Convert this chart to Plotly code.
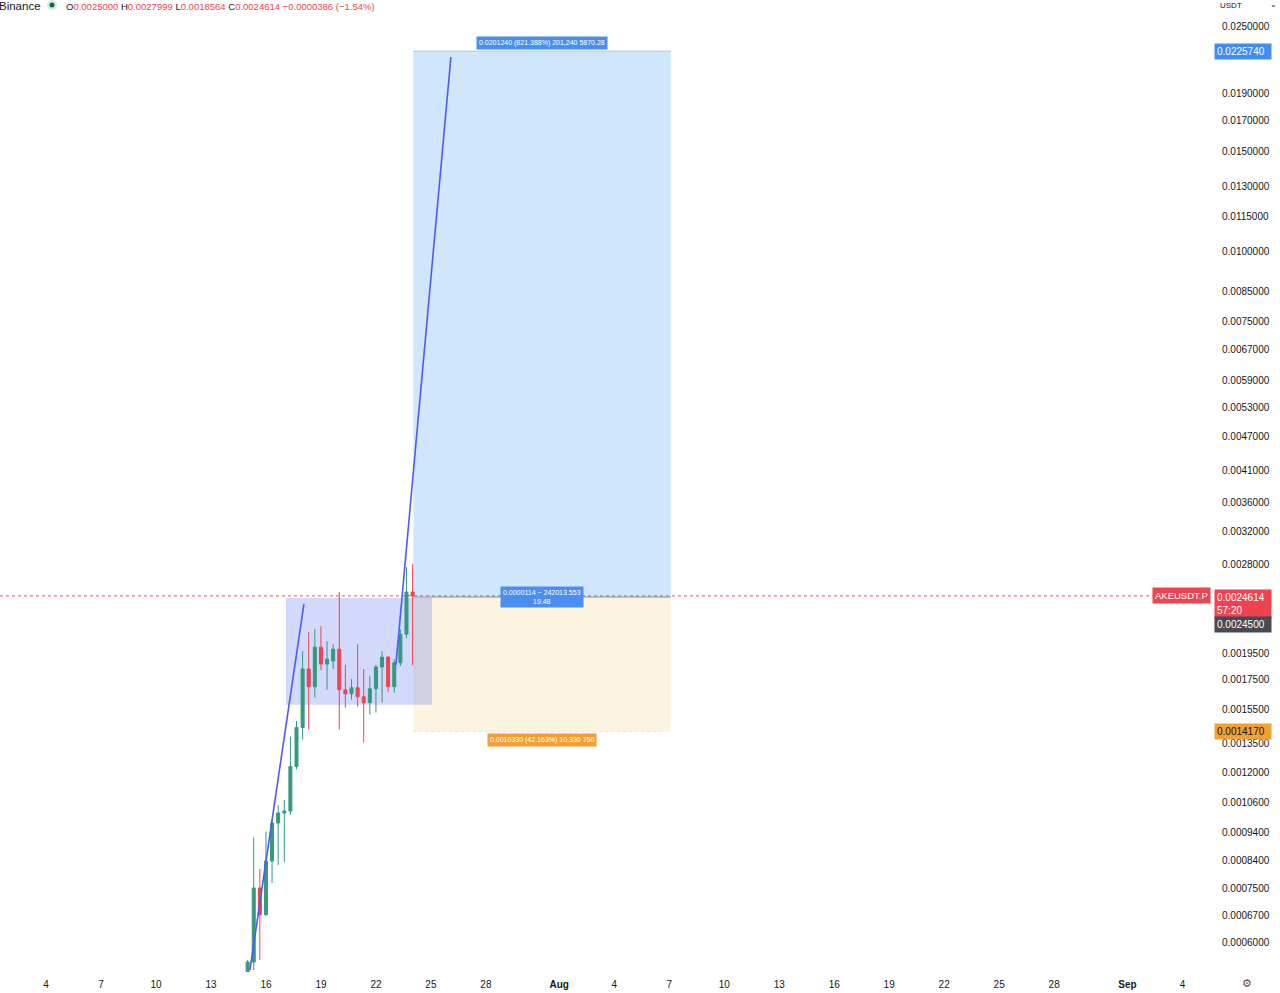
import math
import pandas as pd
import plotly.graph_objects as go

# ---------------- data ----------------
candle_times = pd.date_range("2025-07-15 00:00", periods=28, freq="8h")
open_ = [0.000533, 0.000555, 0.000750, 0.000673, 0.000837, 0.000977, 0.001018, 0.001026,
         0.001230, 0.001441, 0.001828, 0.001701, 0.001998, 0.001865, 0.001888, 0.001982,
         0.001680, 0.001653, 0.001694, 0.001633, 0.001594, 0.001687, 0.001843, 0.001919,
         0.001701, 0.001875, 0.002106, 0.0025000]
high_ = [0.000560, 0.000921, 0.000810, 0.000944, 0.000990, 0.001050, 0.001073, 0.001389,
         0.001480, 0.001966, 0.002123, 0.002149, 0.002175, 0.002047, 0.002022, 0.002500,
         0.001860, 0.001755, 0.002022, 0.001828, 0.001777, 0.001860, 0.001966, 0.001926,
         0.001903, 0.002149, 0.002768, 0.0027999]
low_ = [0.000525, 0.000537, 0.000560, 0.000670, 0.000765, 0.000823, 0.000833, 0.001010,
        0.001215, 0.001372, 0.001429, 0.001627, 0.001820, 0.001680, 0.001828, 0.001429,
        0.001562, 0.001614, 0.001569, 0.001355, 0.001519, 0.001531, 0.001594, 0.001666,
        0.001660, 0.001850, 0.002072, 0.0018564]
close_ = [0.000555, 0.000750, 0.000673, 0.000837, 0.000977, 0.001018, 0.001026, 0.001230,
          0.001441, 0.001828, 0.001701, 0.001998, 0.001865, 0.001903, 0.001982, 0.001680,
          0.001653, 0.001694, 0.001633, 0.001594, 0.001687, 0.001843, 0.001919, 0.001701,
          0.001875, 0.002106, 0.002500, 0.0024614]

# y-axis tick values shown on the price scale
ytick_vals = [0.025, 0.019, 0.017, 0.015, 0.013, 0.0115, 0.010, 0.0085, 0.0075,
              0.0067, 0.0059, 0.0053, 0.0047, 0.0041, 0.0036, 0.0032, 0.0028, 0.00195,
              0.00175, 0.00155, 0.00135, 0.0012, 0.00106, 0.00094, 0.00084, 0.00075,
              0.00067, 0.0006]

# x-axis ticks
xtick_dates = ["2025-07-04", "2025-07-07", "2025-07-10", "2025-07-13", "2025-07-16",
               "2025-07-19", "2025-07-22", "2025-07-25", "2025-07-28", "2025-08-01",
               "2025-08-04", "2025-08-07", "2025-08-10", "2025-08-13", "2025-08-16",
               "2025-08-19", "2025-08-22", "2025-08-25", "2025-08-28", "2025-09-01",
               "2025-09-04"]
xtick_labels = ["4", "7", "10", "13", "16", "19", "22", "25", "28", "<b>Aug</b>",
                "4", "7", "10", "13", "16", "19", "22", "25", "28", "<b>Sep</b>", "4"]

# drawings
trend1_dates = ["2025-07-15 03:00", "2025-07-18 01:45"]
trend1_prices = [0.000537, 0.002382]
trend2_dates = ["2025-07-23 02:10", "2025-07-26 02:10"]
trend2_prices = [0.00186, 0.02204]
range_box_dates = ["2025-07-17 02:10", "2025-07-25 01:30"]
range_box_prices = [0.00158, 0.00244]

# long position tool
pos_dates = ["2025-07-24 01:00", "2025-08-07 02:00"]
entry_price = 0.00245
target_price = 0.022574
stop_price = 0.001417
last_price = 0.0024614

header_ohlc = ["0.0025000", "0.0027999", "0.0018564", "0.0024614"]
header_change = "−0.0000386 (−1.54%)"

# --------------- figure ----------------
GREEN = "#339a80"
RED = "#ec4450"
TXT = "#131722"
FONT = "Liberation Sans"
L = math.log10  # annotation positions on a log axis are given in log10 units
PW, PH = 1212, 972  # plot area size in px (for paper-positioned decorations)

fig = go.Figure()

# long position zones
fig.add_shape(type="rect", xref="x", yref="y", x0=pos_dates[0], x1=pos_dates[1],
              y0=entry_price, y1=target_price, fillcolor="rgba(41,140,240,0.22)",
              line=dict(width=0), layer="below")
fig.add_shape(type="rect", xref="x", yref="y", x0=pos_dates[0], x1=pos_dates[1],
              y0=stop_price, y1=entry_price, fillcolor="rgba(240,200,120,0.22)",
              line=dict(width=0), layer="below")
fig.add_shape(type="line", xref="x", yref="y", x0=pos_dates[0], x1=pos_dates[1],
              y0=target_price, y1=target_price, line=dict(color="rgba(41,140,240,0.35)", width=1),
              layer="below")
fig.add_shape(type="line", xref="x", yref="y", x0=pos_dates[0], x1=pos_dates[1],
              y0=stop_price, y1=stop_price, line=dict(color="rgba(240,170,60,0.3)", width=1, dash="dot"),
              layer="below")
# range box
fig.add_shape(type="rect", xref="x", yref="y", x0=range_box_dates[0], x1=range_box_dates[1],
              y0=range_box_prices[0], y1=range_box_prices[1],
              fillcolor="rgba(70,95,240,0.24)", line=dict(width=0), layer="below")
# entry line
fig.add_shape(type="line", xref="x", yref="y", x0=pos_dates[0], x1=pos_dates[1],
              y0=entry_price, y1=entry_price, line=dict(color="#8a8f9a", width=1), layer="below")
# last price dotted line
fig.add_shape(type="line", xref="paper", yref="y", x0=0, x1=1,
              y0=last_price, y1=last_price, line=dict(color="#f05060", width=1, dash="dot"),
              layer="below")
# status dot in header (halo + core)
fig.add_shape(type="circle", xref="paper", yref="paper", x0=47 / PW, x1=57 / PW,
              y0=1 - 10 / PH, y1=1, fillcolor="#d3ebe3", line=dict(width=0))
fig.add_shape(type="circle", xref="paper", yref="paper", x0=49.5 / PW, x1=54.5 / PW,
              y0=1 - 7.5 / PH, y1=1 - 2.5 / PH, fillcolor="#1f5e50", line=dict(width=0))

fig.add_trace(go.Candlestick(
    x=candle_times, open=open_, high=high_, low=low_, close=close_,
    increasing=dict(line=dict(color=GREEN, width=1), fillcolor=GREEN),
    decreasing=dict(line=dict(color=RED, width=1), fillcolor=RED),
    whiskerwidth=0, hoverinfo="skip", showlegend=False))

for d, p in ((trend1_dates, trend1_prices), (trend2_dates, trend2_prices)):
    fig.add_trace(go.Scatter(x=d, y=p, mode="lines", line=dict(color="#4d5cf0", width=1.6),
                             hoverinfo="skip", showlegend=False))

ytick_text = [f"{v:.7f}" for v in ytick_vals]

fig.update_layout(
    width=1280, height=993,
    margin=dict(l=0, r=68, t=0, b=21),
    paper_bgcolor="white", plot_bgcolor="white",
    font=dict(family=FONT, size=10, color=TXT),
    xaxis=dict(type="date", range=["2025-07-01 11:47", "2025-09-05 14:40"],
               rangeslider=dict(visible=False), showgrid=False, zeroline=False,
               tickmode="array", tickvals=xtick_dates, ticktext=xtick_labels,
               ticks="outside", ticklen=3, tickcolor="rgba(0,0,0,0)",
               tickfont=dict(family=FONT, size=10, color=TXT), showline=False),
    yaxis=dict(type="log", side="right", showgrid=False, zeroline=False,
               range=[-3.2733, -1.5561], tickmode="array", tickvals=ytick_vals,
               ticktext=ytick_text, ticks="outside", ticklen=7, tickcolor="rgba(0,0,0,0)",
               tickfont=dict(family=FONT, size=10, color=TXT), showline=False),
    hovermode=False,
)

ann = []
# header
ann.append(dict(xref="paper", yref="paper", x=0, y=1, xanchor="left", yanchor="top",
                xshift=-3, yshift=2, text="Binance", showarrow=False,
                font=dict(size=11.5, color=TXT)))
parts = []
for lab, val in zip("OHLC", header_ohlc):
    parts.append(f"<span style='color:{TXT}'>{lab}</span><span style='color:{RED}'>{val}</span>")
hdr2 = " ".join(parts) + f" <span style='color:{RED}'>{header_change}</span>"
ann.append(dict(xref="paper", yref="paper", x=64 / PW, y=1, xanchor="left", yanchor="top",
                yshift=1, text=hdr2, showarrow=False, font=dict(size=9.5, color=TXT)))

# position tool labels
mid = pd.Timestamp(pos_dates[0]) + (pd.Timestamp(pos_dates[1]) - pd.Timestamp(pos_dates[0])) / 2
mid = mid.strftime("%Y-%m-%d %H:%M")
profit_txt = f"{target_price - entry_price:.7f} (821.388%) 201,240 5870.28"
loss_txt = f"{entry_price - stop_price:.7f} (42.163%) 10,330 750"
ann.append(dict(x=mid, y=L(target_price), yref="y", xref="x", yanchor="bottom", yshift=1,
                text=profit_txt, showarrow=False, bgcolor="#4a8ff0", borderpad=2,
                font=dict(size=7, color="white")))
ann.append(dict(x=mid, y=L(entry_price), yref="y", xref="x", yanchor="middle",
                text="0.0000114 ~ 242013.553<br>19.48", showarrow=False, bgcolor="#4a8ff0",
                borderpad=2, font=dict(size=7, color="white")))
ann.append(dict(x=mid, y=L(stop_price), yref="y", xref="x", yanchor="top", yshift=-1,
                text=loss_txt, showarrow=False, bgcolor="#f2a035", borderpad=2,
                font=dict(size=7, color="white")))

# price scale labels
px0 = 1214 / PW
ann.append(dict(xref="paper", yref="y", x=px0, y=L(target_price), xanchor="left", yanchor="middle",
                text=f"{target_price:.7f}", showarrow=False, bgcolor="#3f8ef2", borderpad=2,
                font=dict(size=10, color="white"), width=52, align="left"))
ann.append(dict(xref="paper", yref="y", x=px0, y=L(last_price), xanchor="left", yanchor="top",
                yshift=7, text=f"{last_price:.7f}<br>57:20", showarrow=False, bgcolor="#ec4450",
                borderpad=2, font=dict(size=10, color="white"), width=52, align="left"))
ann.append(dict(xref="paper", yref="y", x=1, y=L(last_price), xanchor="right", yanchor="middle",
                xshift=-1, text="AKEUSDT.P", showarrow=False, bgcolor="#ec4450", borderpad=2,
                font=dict(size=9.5, color="white")))
ann.append(dict(xref="paper", yref="y", x=px0, y=L(last_price), xanchor="left", yanchor="top",
                yshift=-20, text=f"{entry_price:.7f}", showarrow=False, bgcolor="#474a52",
                borderpad=2, font=dict(size=10, color="white"), width=52, align="left"))
ann.append(dict(xref="paper", yref="y", x=px0, y=L(stop_price), xanchor="left", yanchor="middle",
                text=f"{stop_price:.7f}", showarrow=False, bgcolor="#f2a035", borderpad=2,
                font=dict(size=10, color=TXT), width=52, align="left"))
# currency selector and settings icon
ann.append(dict(xref="paper", yref="paper", x=1218 / PW, y=1, xanchor="left", yanchor="top",
                yshift=1, text="USDT", showarrow=False, font=dict(size=8, color=TXT)))
ann.append(dict(xref="paper", yref="paper", x=1273 / PW, y=1, xanchor="center", yanchor="top",
                yshift=2, text="⌄", showarrow=False, font=dict(size=8, color=TXT)))
ann.append(dict(xref="paper", yref="paper", x=1247 / PW, y=0, xanchor="center", yanchor="middle",
                yshift=-11, text="⚙", showarrow=False, font=dict(size=11, color="#555")))

fig.update_layout(annotations=ann)

fig.write_html("out.html", config={"displayModeBar": False},
               post_script="document.body.style.margin='0px';")
